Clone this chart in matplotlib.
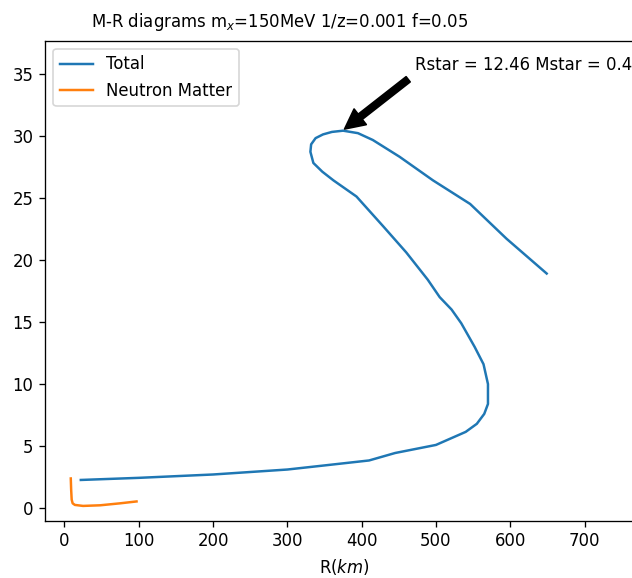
import matplotlib
matplotlib.use("Agg")
import matplotlib.pyplot as plt

# Total curve (R in km, M)
total_r = [22, 100, 200, 300, 350, 410, 445, 500, 540, 555, 565, 570, 570, 564,
           552, 534, 521, 505, 489, 460, 429, 393, 362, 347, 335, 331, 332, 338,
           348, 360, 375, 395, 415, 451, 496, 546, 595, 649]
total_m = [2.28, 2.45, 2.72, 3.12, 3.45, 3.85, 4.45, 5.1, 6.15, 6.8, 7.6, 8.4, 10.0, 11.6,
           13.0, 14.9, 16.0, 17.0, 18.4, 20.6, 22.7, 25.1, 26.4, 27.1, 27.8, 28.7, 29.3, 29.8,
           30.1, 30.3, 30.4, 30.2, 29.65, 28.3, 26.4, 24.5, 21.7, 18.9]

# Neutron matter curve
nm_r = [8.5, 9.0, 9.7, 11, 14, 25, 48, 75, 97]
nm_m = [2.4, 1.5, 0.7, 0.4, 0.27, 0.19, 0.24, 0.4, 0.55]

star_r, star_m = 372, 30.3
label_text = "Rstar = 12.46 Mstar = 0.45"

dpi = 119
fig = plt.figure(figsize=(632 / dpi, 578 / dpi), dpi=dpi)
ax = fig.add_axes([45 / 632, 1 - 520.7 / 578, (644 - 45) / 632, (520.7 - 40.5) / 578])

ax.plot(total_r, total_m, label="Total")
ax.plot(nm_r, nm_m, label="Neutron Matter")
ax.annotate(label_text, xy=(star_r, star_m), xytext=(star_r + 100, star_m + 5),
            arrowprops=dict(facecolor='black', shrink=0.05))

ax.set_xlim(-26.2, 780)
ax.set_ylim(-1.0, 37.66)
ax.set_xticks(range(0, 701, 100))
ax.set_yticks(range(0, 36, 5))
ax.set_xlabel("R($km$)")
ax.set_title("M-R diagrams m$_x$=150MeV 1/z=0.001 f=0.05", fontsize=10,
             x=(280 - 45) / (644 - 45), pad=8)
ax.legend(loc="upper left")

fig.savefig("out.png", dpi=dpi)
